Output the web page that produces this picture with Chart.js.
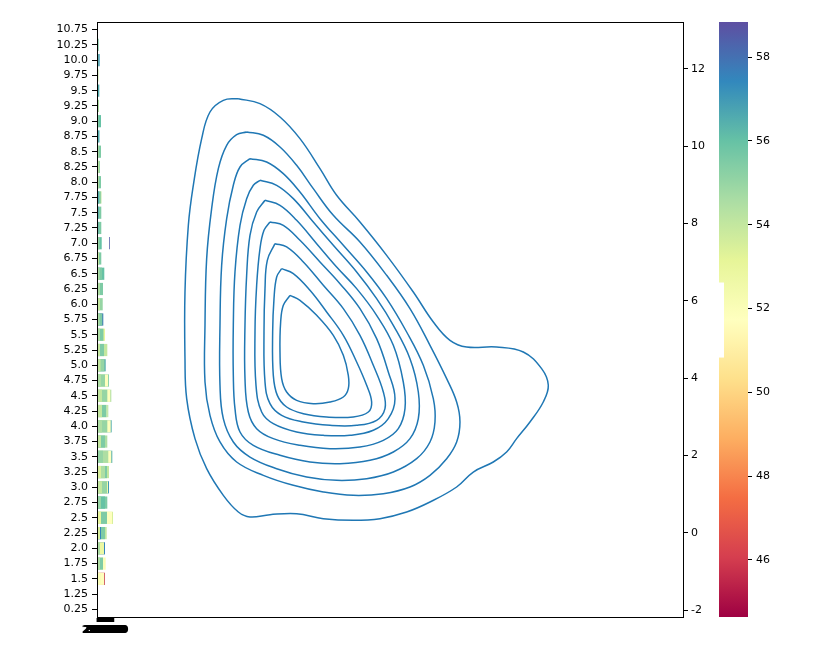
<!DOCTYPE html>
<html>
<head>
<meta charset="utf-8">
<script src="https://cdn.jsdelivr.net/npm/chart.js@4/dist/chart.umd.min.js"></script>
<style>
  html, body { margin: 0; background: #fff; }
</style>
</head>
<body>
<canvas id="grafico" width="838" height="669"></canvas>
<script>
const N = null;

const categories = ['10.75', '10.25', '10.0', '9.75', '9.5', '9.25', '9.0', '8.75', '8.5', '8.25', '8.0',
  '7.75', '7.5', '7.25', '7.0', '6.75', '6.5', '6.25', '6.0', '5.75', '5.5', '5.25', '5.0', '4.75', '4.5',
  '4.25', '4.0', '3.75', '3.5', '3.25', '3.0', '2.75', '2.5', '2.25', '2.0', '1.75', '1.5', '1.25', '0.25'];

// overlapping bars, longest first
const outerLen = [N, N, N, N, N, N, N, N, N, N, N, N, N, N, N, N, N, N, N, N, N, N, N, 0.311,
  0.370, 0.292, 0.380, N, 0.396, 0.311, 0.311, N, 0.414, 0.251, 0.207, 0.225, 0.207, N, N];
const outerVal = [N, N, N, N, N, N, N, N, N, N, N, N, N, N, N, N, N, N, N, N, N, N, N, 56,
  54.5, 54.5, 56.5, N, 56.5, 54, 57, N, 53.5, 54, 57.5, 52, 45.5, N, N];

const midLen = [N, N, N, N, N, N, N, N, N, N, N, 0.116, N, N, N, N,
  0.189, N, N, 0.163, 0.207, 0.267, 0.225, 0.292,
  0.344, 0.267, 0.355, 0.267, 0.370, 0.259, 0.285, 0.267,
  0.388, 0.207, 0.181, 0.155, 0.189, N, N];
const midVal = [N, N, N, N, N, N, N, N, N, N, N, 54, N, N, N, N,
  56, N, N, 57.8, 53, 54, 56.5, 51.8,
  51.8, 52, 51.8, 54.5, 51.8, 55.5, 52.5, 55.5,
  51.8, 55.5, 52.8, 55.5, 51.8, N, N];

const innerLen = [N, 0.044, 0.070, 0.039, 0.060, 0.052, 0.104, 0.065,
  0.104, 0.078, 0.104, 0.096, 0.111, 0.111, 0.122, 0.111,
  0.129, 0.155, 0.148, 0.137, 0.168, 0.181, 0.194, 0.207,
  0.267, 0.246, 0.267, 0.207, 0.292, 0.207, 0.259, 0.207,
  0.259, 0.104, 0.078, 0.078, 0.104, N, 0.026];
const innerVal = [N, 55.5, 57, 54, 56.5, 54.5, 56, 56.5,
  55.5, 55, 55.5, 55.5, 55.5, 55.5, 56, 55.5,
  55.5, 55.5, 55, 55.5, 55.5, 55.5, 55, 55,
  55, 55.5, 55, 55.5, 54.5, 54.5, 55, 56,
  55.5, 57.5, 54.5, 54.5, 52, N, 55];

const coreLen = [0.026, 0.021, 0.031, N, 0.026, N, 0.039, 0.026,
  0.039, 0.039, 0.052, 0.052, 0.039, 0.031, 0.065, 0.052,
  0.065, 0.078, 0.078, 0.065, 0.078, 0.078, 0.091, 0.104,
  0.129, 0.129, 0.129, 0.104, 0.155, 0.104, 0.129, 0.104,
  0.104, 0.078, N, N, N, N, N];
const coreVal = [55, 53.5, 53, N, 54, N, 55, 53,
  54, 53.5, 54.5, 56.5, 57, 57.5, 55, 54,
  54.5, 54.5, 54, 54.5, 54.5, 54, 54, 54.5,
  54, 54, 54.5, 54, 55, 53.5, 54, 55,
  53, 53.5, N, N, N, N, N];

// the lone purple sliver at 7.0
const strayLen = categories.map((c, i) => i === 14 ? [0.316, 0.336] : N);
const strayVal = categories.map((c, i) => i === 14 ? 58.5 : N);

// x ticks are crammed together in the original and read as one black blob
const xTickVals = [0, 0.025, 0.05, 0.075, 0.1, 0.125, 0.15, 0.175, 0.2, 0.225, 0.25, 0.275, 0.3,
  0.325, 0.35, 0.375, 0.4, 0.425];
const xTickLabels = ['2000', '2250', '2500', '2750', '3000', '3250', '3500', '3750', '4000', '4250',
  '4500', '4750', '5000', '5250', '5500', '5750', '6000', '6250'];
const rightTicks = [-2, 0, 2, 4, 6, 8, 10, 12];
const cbTicks = [46, 48, 50, 52, 54, 56, 58];

// kde contour levels, outermost first
const kdeLevel1 = [[3.658, 11.232], [4.218, 11.103], [4.736, 10.758], [5.253, 10.197], [5.771, 9.421], [6.202, 8.731],
  [6.806, 8.041], [7.496, 7.178], [8.186, 6.229], [8.704, 5.453], [9.135, 4.979], [9.566, 4.806], [10.343, 4.806],
  [11.033, 4.677], [11.507, 4.245], [11.680, 3.814], [11.550, 3.383], [11.205, 2.865], [10.860, 2.434],
  [10.601, 2.089], [10.256, 1.830], [9.739, 1.571], [9.308, 1.183], [8.618, 0.795], [8.014, 0.536], [7.324, 0.364],
  [6.634, 0.320], [5.857, 0.364], [5.167, 0.493], [4.477, 0.467], [3.959, 0.407], [3.658, 0.536], [3.269, 0.967],
  [2.838, 1.657], [2.536, 2.434], [2.321, 3.469], [2.277, 4.504], [2.277, 6.229], [2.364, 7.955], [2.493, 8.990],
  [2.709, 10.197], [2.924, 10.887], [3.269, 11.189]];
const kdeLevel2 = [[3.873, 10.370], [4.305, 10.284], [4.736, 9.982], [5.167, 9.507], [5.598, 8.903], [6.116, 8.213],
  [6.806, 7.523], [7.496, 6.661], [8.100, 5.798], [8.618, 4.849], [9.049, 3.987], [9.308, 3.383], [9.394, 2.865],
  [9.308, 2.348], [9.049, 1.916], [8.618, 1.485], [8.100, 1.183], [7.410, 1.010], [6.634, 0.967], [5.857, 1.054],
  [5.081, 1.226], [4.305, 1.485], [3.614, 1.830], [3.183, 2.348], [2.924, 3.038], [2.795, 3.900], [2.795, 5.367],
  [2.838, 7.092], [2.967, 8.386], [3.140, 9.421], [3.356, 10.025], [3.614, 10.301]];
const kdeLevel3 = [[3.959, 9.680], [4.391, 9.594], [4.822, 9.292], [5.253, 8.817], [5.771, 8.127], [6.375, 7.437],
  [6.979, 6.747], [7.496, 6.057], [8.014, 5.194], [8.445, 4.332], [8.704, 3.469], [8.747, 2.865], [8.618, 2.348],
  [8.272, 1.916], [7.669, 1.571], [6.979, 1.399], [6.202, 1.356], [5.426, 1.442], [4.650, 1.657], [3.959, 1.959],
  [3.528, 2.348], [3.269, 2.952], [3.183, 3.814], [3.183, 5.367], [3.226, 6.919], [3.356, 8.127], [3.528, 8.990],
  [3.701, 9.464]];
const kdeLevel4 = [[4.218, 9.119], [4.650, 8.990], [5.081, 8.645], [5.598, 8.041], [6.116, 7.437], [6.720, 6.747],
  [7.237, 6.057], [7.669, 5.367], [8.100, 4.504], [8.316, 3.641], [8.316, 2.952], [8.100, 2.434], [7.669, 2.089],
  [7.065, 1.873], [6.288, 1.787], [5.512, 1.830], [4.736, 2.003], [4.046, 2.261], [3.701, 2.607], [3.571, 3.210],
  [3.528, 4.073], [3.528, 5.367], [3.571, 6.747], [3.701, 7.955], [3.873, 8.645], [4.046, 8.990]];
const kdeLevel5 = [[4.348, 8.602], [4.736, 8.472], [5.167, 8.084], [5.685, 7.480], [6.202, 6.876], [6.720, 6.316],
  [7.237, 5.626], [7.669, 4.849], [7.927, 3.900], [7.971, 3.210], [7.798, 2.693], [7.410, 2.391], [6.806, 2.218],
  [6.030, 2.175], [5.253, 2.261], [4.563, 2.434], [4.132, 2.693], [3.916, 3.124], [3.830, 3.987], [3.830, 5.367],
  [3.873, 6.661], [3.959, 7.696], [4.132, 8.300]];
const kdeLevel6 = [[4.477, 8.041], [4.822, 7.955], [5.253, 7.566], [5.771, 7.006], [6.288, 6.445], [6.806, 5.798],
  [7.237, 5.022], [7.539, 4.159], [7.712, 3.469], [7.539, 2.952], [7.151, 2.650], [6.547, 2.520], [5.857, 2.520],
  [5.167, 2.607], [4.563, 2.822], [4.261, 3.124], [4.115, 3.814], [4.089, 5.194], [4.132, 6.402], [4.218, 7.351],
  [4.322, 7.825]];
const kdeLevel7 = [[4.606, 7.480], [4.908, 7.394], [5.340, 7.006], [5.857, 6.402], [6.375, 5.798], [6.806, 5.108],
  [7.151, 4.332], [7.410, 3.641], [7.453, 3.210], [7.237, 2.909], [6.720, 2.779], [6.030, 2.779], [5.340, 2.865],
  [4.779, 3.038], [4.477, 3.340], [4.348, 3.900], [4.322, 5.194], [4.348, 6.316], [4.408, 7.049]];
const kdeLevel8 = [[4.779, 6.833], [5.081, 6.704], [5.512, 6.273], [5.943, 5.712], [6.375, 5.108], [6.720, 4.418],
  [6.979, 3.814], [7.108, 3.383], [7.022, 3.124], [6.634, 2.995], [5.943, 2.995], [5.340, 3.081], [4.908, 3.253],
  [4.667, 3.555], [4.563, 4.073], [4.546, 5.194], [4.581, 6.057], [4.650, 6.618]];
const kdeLevel9 = [[4.995, 6.143], [5.253, 6.014], [5.685, 5.626], [6.116, 5.108], [6.375, 4.591], [6.504, 4.073],
  [6.504, 3.728], [6.375, 3.512], [6.030, 3.383], [5.598, 3.340], [5.167, 3.426], [4.908, 3.641], [4.779, 3.987],
  [4.736, 4.677], [4.753, 5.453], [4.822, 5.884]];

const cbMin = 44.64, cbMax = 58.835;
const spectralStops = ['#9e0142', '#d53e4f', '#f46d43', '#fdae61', '#fee08b', '#ffffbf',
  '#e6f598', '#abdda4', '#66c2a5', '#3288bd', '#5e4fa2'];

const hexRgb = h => [1, 3, 5].map(i => parseInt(h.substr(i, 2), 16));

function spectral(v) {
  let t = Math.min(1, Math.max(0, (v - cbMin) / (cbMax - cbMin))) * 10;
  const i = Math.min(9, Math.floor(t));
  const f = t - i;
  const a = hexRgb(spectralStops[i]), b = hexRgb(spectralStops[i + 1]);
  const c = a.map((x, k) => Math.round(x + (b[k] - x) * f));
  return `rgb(${c[0]},${c[1]},${c[2]})`;
}

const barLayer = (len, val) => ({
  type: 'bar', indexAxis: 'y', xAxisID: 'x', yAxisID: 'yCat',
  data: len,
  backgroundColor: val.map(v => v == null ? 'rgba(0,0,0,0)' : spectral(v)),
  grouped: false, barPercentage: 0.8, categoryPercentage: 1, borderWidth: 0
});

const kdeLine = pts => ({
  type: 'scatter', xAxisID: 'x', yAxisID: 'yR',
  data: pts.concat([pts[0]]).map(p => ({ x: p[0], y: p[1] })),
  showLine: true, borderColor: '#1f77b4', borderWidth: 1.5,
  pointRadius: 0, tension: 0.4, fill: false
});

// first dataset is painted last (on top)
const datasets = [kdeLevel1, kdeLevel2, kdeLevel3, kdeLevel4, kdeLevel5, kdeLevel6, kdeLevel7, kdeLevel8, kdeLevel9]
  .map(kdeLine)
  .concat([
    barLayer(coreLen, coreVal),
    barLayer(innerLen, innerVal),
    barLayer(midLen, midVal),
    barLayer(outerLen, outerVal),
    barLayer(strayLen, strayVal)
  ]);

const moldura = {
  id: 'moldura',
  afterDraw(chart) {
    const { ctx, chartArea: a } = chart;
    ctx.save();
    ctx.strokeStyle = '#000';
    ctx.lineWidth = 1;
    const l = Math.round(a.left) + 0.5, t = Math.round(a.top) + 0.5;
    ctx.strokeRect(l, t, Math.round(a.right) - Math.round(a.left), Math.round(a.bottom) - Math.round(a.top));

    // colorbar
    const cb = chart.scales.cb;
    const right = cb.left, left = right - 29;
    const top = cb.getPixelForValue(cbMax), bottom = cb.getPixelForValue(cbMin);
    const grad = ctx.createLinearGradient(0, bottom, 0, top);
    for (let s = 0; s <= 50; s++) {
      grad.addColorStop(s / 50, spectral(cbMin + (cbMax - cbMin) * s / 50));
    }
    ctx.fillStyle = grad;
    ctx.fillRect(left, top, right - left, bottom - top);
    // small notch seen in the original bar
    const n1 = cb.getPixelForValue(52.62), n2 = cb.getPixelForValue(50.83);
    ctx.fillStyle = '#fff';
    ctx.fillRect(left - 1, n1, 6, n2 - n1);
    ctx.restore();
  }
};

Chart.defaults.font.family = "'DejaVu Sans', sans-serif";
Chart.defaults.font.size = 11;
Chart.defaults.color = '#000';

const axisGrid = { drawOnChartArea: false, color: '#000', tickLength: 5, tickWidth: 1 };

new Chart(document.getElementById('grafico'), {
  type: 'bar',
  data: { labels: categories, datasets },
  options: {
    responsive: false,
    animation: false,
    layout: { padding: { left: 0, right: 60, top: 22, bottom: 22 } },
    plugins: { legend: { display: false }, tooltip: { enabled: false } },
    scales: {
      x: {
        type: 'linear', axis: 'x', position: 'bottom', min: 0, max: 15.166, offset: false,
        afterBuildTicks: s => { s.ticks = xTickVals.map(v => ({ value: v })); },
        afterFit: s => { s.height = 30; },
        ticks: {
          autoSkip: false, maxRotation: 0, minRotation: 0, padding: 2,
          font: { weight: 'bold' }, callback: (v, i) => xTickLabels[i]
        },
        grid: Object.assign({ offset: false }, axisGrid, { tickWidth: 1.5 }),
        border: { color: '#000' }
      },
      yCat: {
        type: 'category', axis: 'y', position: 'left', labels: categories, offset: true,
        afterFit: s => { s.width = 97; },
        ticks: { autoSkip: false, padding: 4 },
        grid: Object.assign({ offset: false }, axisGrid),
        border: { color: '#000' }
      },
      yR: {
        type: 'linear', axis: 'y', position: 'right', min: -2.181, max: 13.216, offset: false,
        afterBuildTicks: s => { s.ticks = rightTicks.map(v => ({ value: v })); },
        afterFit: s => { s.width = 65; },
        ticks: { padding: 3 },
        grid: axisGrid,
        border: { color: '#000' }
      },
      cb: {
        type: 'linear', axis: 'y', position: 'right', min: cbMin, max: cbMax, offset: false,
        afterBuildTicks: s => { s.ticks = cbTicks.map(v => ({ value: v })); },
        afterFit: s => { s.width = 30; },
        ticks: { padding: 4 },
        grid: Object.assign({}, axisGrid, { tickLength: 4 }),
        border: { display: false }
      }
    }
  },
  plugins: [moldura]
});
</script>
</body>
</html>
